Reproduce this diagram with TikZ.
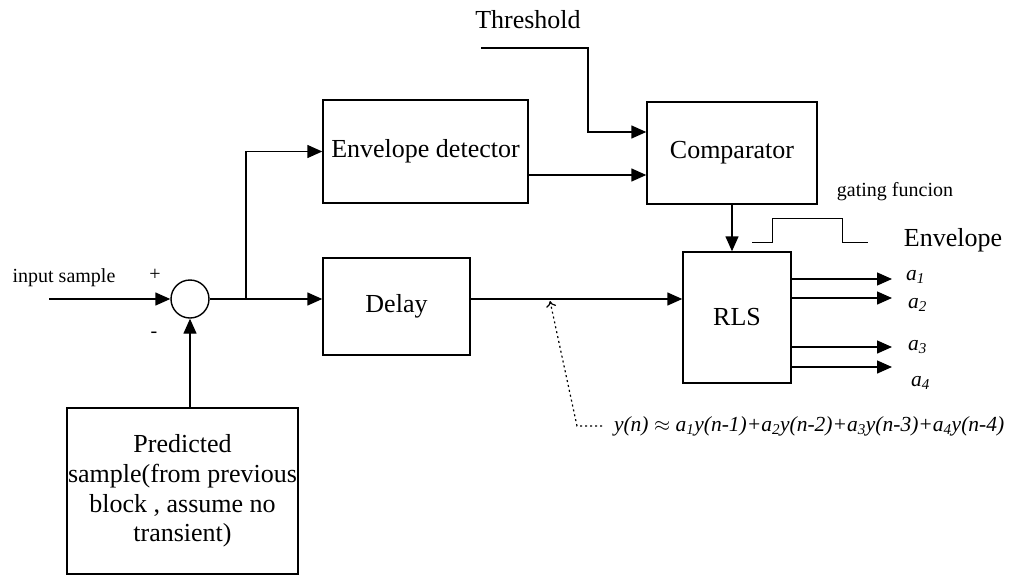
\documentclass[tikz,border=0pt]{standalone}
\usepackage{fontspec}
\setmainfont{Liberation Serif}
\usetikzlibrary{arrows.meta}
\begin{document}
\begin{tikzpicture}[x=1pt, y=-1pt, line width=1.4pt, line join=miter,
    font=\fontsize{26}{29.7}\selectfont,
    >={Triangle[length=15pt,width=13pt]},
    blk/.style={draw, rectangle, inner sep=0pt, align=center},
    small/.style={font=\fontsize{20}{24}\selectfont},
    coef/.style={font=\fontsize{21.5}{24}\selectfont\itshape, anchor=west}]
    \useasboundingbox (0,0) rectangle (1010,576);
    % blocks
    \node[blk, minimum width=205, minimum height=103] (env) at (425.5,151.5) {Envelope detector};
    \node[blk, minimum width=170, minimum height=102] (cmp) at (732,153) {Comparator};
    \node[blk, minimum width=147, minimum height=97] (delay) at (396.5,306.5) {Delay};
    \node[blk, minimum width=108, minimum height=131] (rls) at (737,317.5) {RLS};
    \node[blk, minimum width=231, minimum height=166] (pred) at (182.5,491)
        {Predicted\\sample(from previous\\block , assume no\\transient)};
    \node[draw, circle, minimum size=38, inner sep=0pt] (sum) at (190,299) {};
    % labels
    \node (thr) at (528,20) {Threshold};
    \node[small] (in) at (64,278) {input sample};
    \node[small] (plus) at (155,275) {+};
    \node[small] (minus) at (154,335) {-};
    \node[small] (gate) at (895,192) {gating funcion};
    \node (envl) at (953,240) {Envelope};
    \coordinate (src) at (49,299);
    \coordinate (br) at (246,299);
    \coordinate (t0) at (481,48);
    \coordinate (tb) at (588,132);
    % signal path
    \draw[->] (src) -- (sum.west);
    \draw[->] (sum.south |- pred.north) -- (sum.south);
    \draw (sum.east) -- (br);
    \draw[->] (br) -- (br -| delay.west);
    \draw[->] (br) |- (env.west);
    \draw[->] (delay.east |- br) -- (rls.west |- br);
    \draw[->] ([yshift=-23.5pt]env.east) -- ([yshift=-23.5pt]env.east -| cmp.west);
    \draw[->] (t0) -| (tb) -- (tb -| cmp.west);
    \draw[->] (cmp.south) -- (cmp.south |- rls.north);
    % RLS outputs
    \foreach \y/\i/\dx/\dy in {279/1/910/277, 298/2/912/305, 347/3/912/347, 367/4/915/383} {
        \coordinate (o\i) at (892,\y);
        \draw[->] (rls.east |- o\i) -- (o\i);
        \node[coef] (a\i) at (\dx-8,\dy) {a\textsubscript{\i}};
    }
    % gating waveform
    \draw[line width=1pt] (752,242) -- (772,242) -- (772,218) -- (842,218) -- (842,242) -- (868,242);
    % model equation
    \node[coef] (eq) at (610,426) {y(n) $\approx$ a\textsubscript{1}y(n-1)+a\textsubscript{2}y(n-2)+a\textsubscript{3}y(n-3)+a\textsubscript{4}y(n-4)};
    \coordinate (d0) at (602,426);
    \coordinate (bend) at (577,426);
    \coordinate (tap) at (550,301);
    \draw[line width=1.2pt, dash pattern=on 2pt off 3pt, -{To[length=6pt,width=10pt]}]
        (d0) -- (bend) -- (tap);
\end{tikzpicture}
\end{document}
